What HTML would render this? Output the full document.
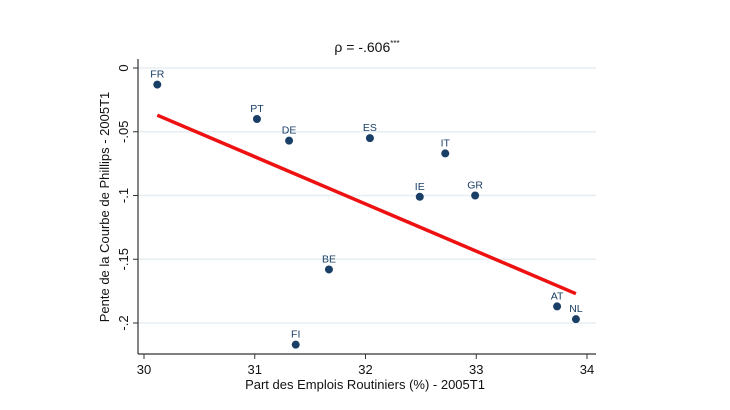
<!DOCTYPE html>
<html><head><meta charset="utf-8"><style>
body{margin:0;background:#fff;}
svg{display:block;font-family:"Liberation Sans",sans-serif;}
</style></head><body>
<svg id="chart" width="730" height="410" viewBox="0 0 730 410">
<rect x="0" y="0" width="730" height="410" fill="#fff"/>
<text x="367" y="52" text-anchor="middle" font-size="14" fill="#111">ρ = -.606<tspan dy="-6" font-size="8">***</tspan></text>
<g id="grid"></g>
<g id="axes"></g>
<g id="fit"></g>
<g id="points"></g>
<text transform="translate(109,207) rotate(-90)" text-anchor="middle" font-size="13" fill="#111">Pente de la Courbe de Phillips - 2005T1</text>
<text x="365" y="389" text-anchor="middle" font-size="13" fill="#111">Part des Emplois Routiniers (%) - 2005T1</text>
</svg>
<script>
const countries=["FR","PT","DE","ES","IT","IE","GR","BE","FI","AT","NL"];
const xValues=[30.12,31.02,31.31,32.04,32.72,32.49,32.99,31.67,31.37,33.73,33.90];
const yValues=[-0.013,-0.040,-0.057,-0.055,-0.067,-0.101,-0.100,-0.158,-0.217,-0.187,-0.197];
const xTicks=[30,31,32,33,34];
const yTicks=[0,-0.05,-0.1,-0.15,-0.2];
const yTickLabels=["0","-.05","-.1","-.15","-.2"];
const fitX=[30.12,33.9];
const fitY=[-0.037,-0.177];

const NS="http://www.w3.org/2000/svg";
const X0=144,X1=587,Y0=68,Y1=323;
function sx(v){return X0+(v-30)*(X1-X0)/4;}
function sy(v){return Y0+(v-0)*(Y1-Y0)/(-0.2);}
function mk(tag,attrs,parent){const e=document.createElementNS(NS,tag);for(const k in attrs)e.setAttribute(k,attrs[k]);parent.appendChild(e);return e;}
const grid=document.getElementById('grid'),axes=document.getElementById('axes'),fit=document.getElementById('fit'),pts=document.getElementById('points');
yTicks.forEach((t,i)=>{
  const g=mk('line',{x1:138,x2:596,y1:sy(t),y2:sy(t),stroke:'#e6eef2','stroke-width':1.5},grid);
  
  
  const tk=mk('line',{x1:133,x2:138,y1:sy(t),y2:sy(t),stroke:'#333','stroke-width':1},axes);
  
  
  const tx=mk('text',{transform:`translate(128,${sy(t)}) rotate(-90)`,'text-anchor':'middle','font-size':13,fill:'#111'},axes);
  tx.textContent=yTickLabels[i];
  
  
});
const ya=mk('line',{x1:138,x2:138,y1:59,y2:354,stroke:'#333','stroke-width':1.2},axes);


const xa=mk('line',{x1:138,x2:596,y1:354,y2:354,stroke:'#333','stroke-width':1.2},axes);


xTicks.forEach(t=>{
  const tk=mk('line',{x1:sx(t),x2:sx(t),y1:354,y2:359,stroke:'#333','stroke-width':1},axes);
  
  
  const tx=mk('text',{x:sx(t),y:374,'text-anchor':'middle','font-size':13,fill:'#111'},axes);
  tx.textContent=String(t);
  
  
});
const fl=mk('line',{x1:sx(fitX[0]),y1:sy(fitY[0]),x2:sx(fitX[1]),y2:sy(fitY[1]),stroke:'#ee1111','stroke-width':3.5},fit);


countries.forEach((c,i)=>{
  const cx=sx(xValues[i]),cy=sy(yValues[i]);
  const d=mk('circle',{cx:cx,cy:cy,r:4,fill:'#1a3f66'},pts);
  
  
  const l=mk('text',{x:cx,y:cy-7,'text-anchor':'middle','font-size':10.5,fill:'#1a3f66'},pts);
  l.textContent=c;
  
  
});
</script>
</body></html>
